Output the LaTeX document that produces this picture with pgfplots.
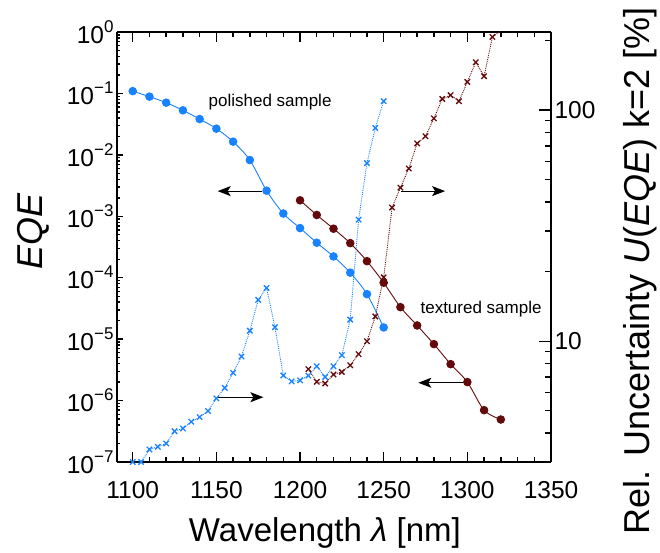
\documentclass[border=0pt]{standalone}
\usepackage{fontspec}
\setmainfont{Liberation Sans}
\usepackage{pgfplots}
\pgfplotsset{compat=1.18}
\usetikzlibrary{arrows.meta}
\definecolor{cblue}{RGB}{25,130,255}
\definecolor{cred}{RGB}{100,10,10}
\newcommand{\tp}[1]{10\raisebox{11pt}{\fontsize{17}{17}\selectfont #1}}
\pgfplotsset{
  common/.style={at={(0pt,0pt)}, anchor=south west, scale only axis,
    width=434pt, height=430pt, xmin=1090.6, xmax=1350,
    tick align=inside,
    every tick/.style={black, line width=1.4pt},
    axis line style={line width=2.6pt},
    tick label style={font=\fontsize{24.5}{28}\selectfont},
    /pgf/number format/1000 sep={}, /pgf/number format/assume math mode=true},
}
\begin{document}
\begin{tikzpicture}
\path[use as bounding box] (-117pt,-90pt) rectangle (543pt,462pt);
% frame with x axis
\begin{axis}[common,
  ymin=0, ymax=1,
  axis x line=box, axis y line*=left,
  ytick=\empty,
  xtick={1100,1150,1200,1250,1300,1350}, minor x tick num=4,
  xtick pos=both,
  major tick length=10.5pt, minor tick length=5pt,
  xticklabel style={yshift=-16pt},
  xlabel={Wavelength \textit{λ} [nm]},
  xlabel style={font=\fontsize{33}{36}\selectfont, at={(axis description cs:0.479,-0.1853)}, anchor=base},
]
\end{axis}
% left axis: EQE
\begin{axis}[common,
  ymode=log, ymin=1e-7, ymax=1,
  axis x line=none, axis y line*=left,
  ytick={1e-7,1e-6,1e-5,1e-4,1e-3,1e-2,1e-1,1},
  yticklabels={\tp{−7},\tp{−6},\tp{−5},\tp{−4},\tp{−3},\tp{−2},\tp{−1},\tp{0}},
  minor ytick={2e-7,3e-7,4e-7,5e-7,6e-7,7e-7,8e-7,9e-7,
    2e-6,3e-6,4e-6,5e-6,6e-6,7e-6,8e-6,9e-6,
    2e-5,3e-5,4e-5,5e-5,6e-5,7e-5,8e-5,9e-5,
    2e-4,3e-4,4e-4,5e-4,6e-4,7e-4,8e-4,9e-4,
    2e-3,3e-3,4e-3,5e-3,6e-3,7e-3,8e-3,9e-3,
    2e-2,3e-2,4e-2,5e-2,6e-2,7e-2,8e-2,9e-2,
    0.2,0.3,0.4,0.5,0.6,0.7,0.8,0.9},
  major tick length=6.5pt, minor tick length=3.5pt,
  ylabel={\textit{EQE}},
  ylabel style={font=\fontsize{36}{40}\selectfont, at={(axis description cs:-0.171,0.537)}, anchor=base},
]
\addplot[cblue, line width=0.9pt, smooth, tension=0.5, mark=*, mark size=3.8pt, mark options={solid, fill=cblue, draw=cblue}] coordinates {
(1100,0.109) (1110,0.0887) (1120,0.0708) (1130,0.0531) (1140,0.0383)
(1150,0.0267) (1160,0.0164) (1170,0.00823) (1180,0.00261) (1190,0.00111)
(1200,6.43e-4) (1210,3.71e-4) (1220,2.22e-4) (1230,1.21e-4) (1240,5.4e-5)
(1250,1.55e-5)};
\addplot[cred, line width=0.9pt, smooth, tension=0.5, mark=*, mark size=3.8pt, mark options={solid, fill=cred, draw=cred}] coordinates {
(1200,1.82e-3) (1210,1.05e-3) (1220,6.28e-4) (1230,3.66e-4) (1240,1.86e-4)
(1250,8.3e-5) (1260,3.32e-5) (1270,1.67e-5) (1280,8.3e-6) (1290,3.92e-6)
(1300,2.0e-6) (1310,6.98e-7) (1320,4.92e-7)};
\draw[black, line width=1.2pt, -{Stealth[length=13pt, width=10pt, inset=3pt]}] (axis cs:1177.1,2.57e-3) -- (axis cs:1150.8,2.57e-3);
\draw[black, line width=1.2pt, -{Stealth[length=13pt, width=10pt, inset=3pt]}] (axis cs:1151.2,1.135e-6) -- (axis cs:1178.1,1.135e-6);
\draw[black, line width=1.2pt, -{Stealth[length=13pt, width=10pt, inset=3pt]}] (axis cs:1260.4,2.57e-3) -- (axis cs:1286.7,2.57e-3);
\draw[black, line width=1.2pt, -{Stealth[length=13pt, width=10pt, inset=3pt]}] (axis cs:1297.6,1.95e-6) -- (axis cs:1270.7,1.95e-6);
\node[font=\fontsize{17}{20}\selectfont] at (axis cs:1182.1,0.0716) {polished sample};
\node[font=\fontsize{17}{20}\selectfont] at (axis cs:1308.2,3.05e-5) {textured sample};
\end{axis}
% right axis: uncertainty
\begin{axis}[common,
  ymode=log, ymin=3, ymax=218,
  axis x line=none, axis y line*=right,
  ytick={10,100}, yticklabels={10,100},
  minor ytick={3,4,5,6,7,8,9,20,30,40,50,60,70,80,90,200},
  major tick length=12pt, minor tick length=6pt,
  ylabel={Rel. Uncertainty \textit{U}(\textit{EQE}) k=2 [\%]},
  ylabel style={font=\fontsize{36}{40}\selectfont, at={(axis description cs:1.228,0.445)}, anchor=base},
]
\addplot[cblue, line width=0.9pt, densely dotted, mark=x, mark size=3.8pt, mark options={solid, line width=1.3pt}] coordinates {
(1100,3.0) (1105,3.0) (1110,3.40) (1115,3.49) (1120,3.61) (1125,4.08)
(1130,4.19) (1135,4.48) (1140,4.69) (1145,4.99) (1150,5.66) (1155,6.28)
(1160,7.30) (1165,8.59) (1170,11.1) (1175,15.1) (1180,17.0) (1185,11.5)
(1190,7.11) (1195,6.70) (1200,6.77) (1205,7.10) (1210,7.79) (1215,7.0)
(1220,7.79) (1225,8.70) (1230,12.4) (1235,33.6) (1240,59.0) (1245,83.8)
(1250,109.4)};
\addplot[cred, line width=0.9pt, densely dotted, mark=x, mark size=3.8pt, mark options={solid, line width=1.3pt}] coordinates {
(1205,7.57) (1210,6.67) (1215,6.56) (1220,7.18) (1225,7.36) (1230,7.87)
(1235,8.79) (1240,10.0) (1245,12.8) (1250,18.9) (1255,37.9) (1260,46.2)
(1265,55.9) (1270,71.8) (1275,77.1) (1280,92.2) (1285,111.9) (1290,116.1)
(1295,109.4) (1300,132.5) (1305,161.3) (1310,140.3) (1315,207.6) (1320,220)};
\end{axis}
\end{tikzpicture}
\end{document}
